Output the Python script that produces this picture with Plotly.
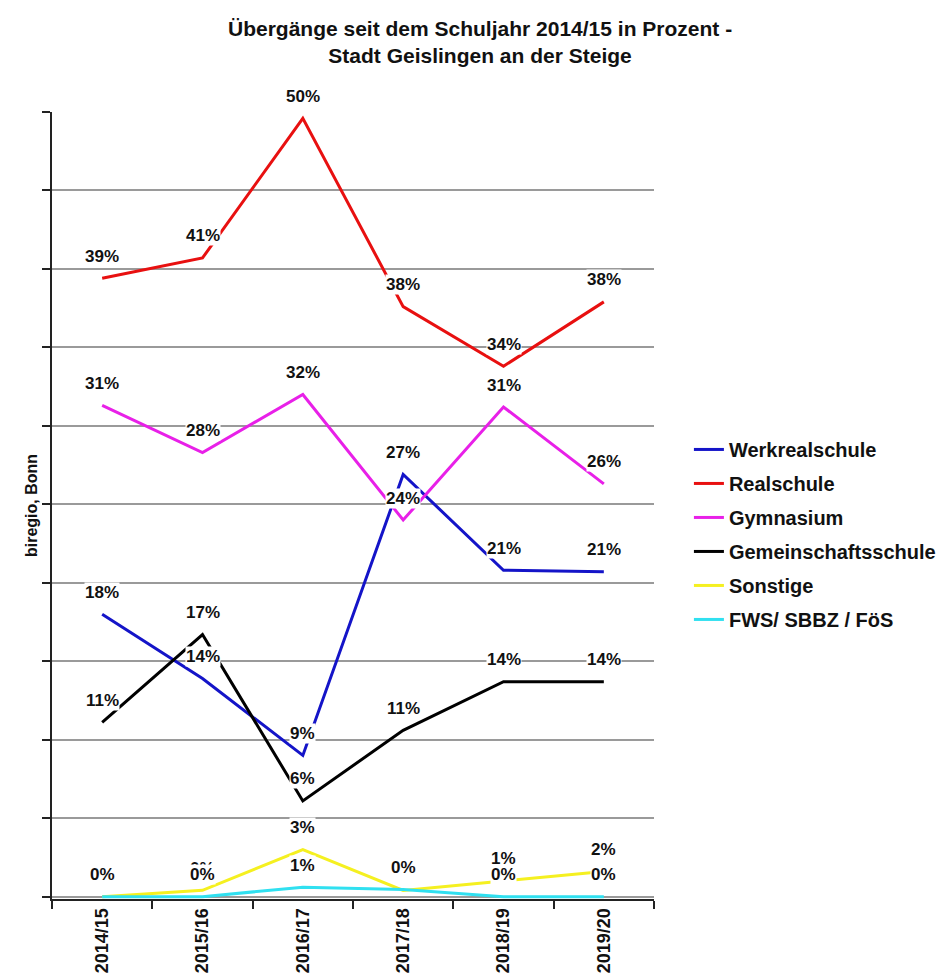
import plotly.graph_objects as go

years = ["2014/15", "2015/16", "2016/17", "2017/18", "2018/19", "2019/20"]

werkrealschule = [18.0, 13.9, 9.0, 26.9, 20.8, 20.7]
realschule = [39.4, 40.7, 49.6, 37.6, 33.8, 37.9]
gymnasium = [31.3, 28.3, 32.0, 24.0, 31.2, 26.3]
gemeinschaftsschule = [11.1, 16.7, 6.1, 10.6, 13.7, 13.7]
sonstige = [0.0, 0.4, 3.0, 0.4, 1.0, 1.6]
fws_sbbz_foes = [0.0, 0.0, 0.6, 0.45, 0.0, 0.0]

series_names = ["Werkrealschule", "Realschule", "Gymnasium",
                "Gemeinschaftsschule", "Sonstige", "FWS/ SBBZ / FöS"]
series_values = [werkrealschule, realschule, gymnasium,
                 gemeinschaftsschule, sonstige, fws_sbbz_foes]
series_colors = ["#1414c8", "#e81010", "#e820e8", "#000000", "#f5f020", "#30e0f0"]

FONT = "Liberation Sans, Arial, sans-serif"

fig = go.Figure()
for i, (name, vals, col) in enumerate(zip(series_names, series_values, series_colors)):
    fig.add_trace(go.Scatter(
        x=years, y=vals, name=name, mode="lines",
        line=dict(color=col, width=3),
        legendgroup=f"g{i}",
        hoverinfo="skip",
    ))

annotations = []
for vals in series_values:
    for yr, v in zip(years, vals):
        annotations.append(dict(
            x=yr, y=v, xref="x", yref="y",
            text=f"<b>{int(v + 0.5)}%</b>",
            showarrow=False, yshift=22, yanchor="middle",
            bgcolor="white", borderpad=0,
            font=dict(family=FONT, size=17, color="#111111"),
        ))

fig.update_layout(
    width=946, height=979,
    margin=dict(l=44, r=300, t=104, b=88),
    paper_bgcolor="white", plot_bgcolor="white",
    title=dict(
        text="<b>Übergänge seit dem Schuljahr 2014/15 in Prozent -<br>Stadt Geislingen an der Steige</b>",
        x=0.499, xref="container", xanchor="center",
        y=1 - 28 / 979, yref="container", yanchor="top",
        font=dict(family=FONT, size=21, color="#111111"),
    ),
    font=dict(family=FONT, color="#111111"),
    showlegend=True,
    legend=dict(
        x=1.058, xanchor="left", y=0.596, yanchor="top",
        traceorder="grouped", tracegroupgap=5,
        font=dict(family=FONT, size=20, color="#111111", weight="bold"),
        itemwidth=30,
    ),
    annotations=annotations,
)

fig.update_xaxes(
    type="category", range=[-0.5, 5.5], automargin=False,
    showline=True, linecolor="#222222", linewidth=2,
    ticks="outside", tickson="boundaries", ticklen=8, tickwidth=2, tickcolor="#222222",
    tickangle=-90, showgrid=False,
    tickfont=dict(family=FONT, size=18, color="#111111", weight="bold"),
)
fig.update_yaxes(
    range=[-0.15, 50], dtick=5, tick0=0, automargin=False,
    showline=True, linecolor="#222222", linewidth=2,
    ticks="outside", ticklen=8, tickwidth=2, tickcolor="#222222",
    showticklabels=False, zeroline=False,
    showgrid=True, gridcolor="#9a9a9a", gridwidth=1.5,
    title=dict(text="<b>biregio, Bonn</b>", standoff=0,
               font=dict(family=FONT, size=16, color="#111111")),
)

fig.write_html("out.html")
